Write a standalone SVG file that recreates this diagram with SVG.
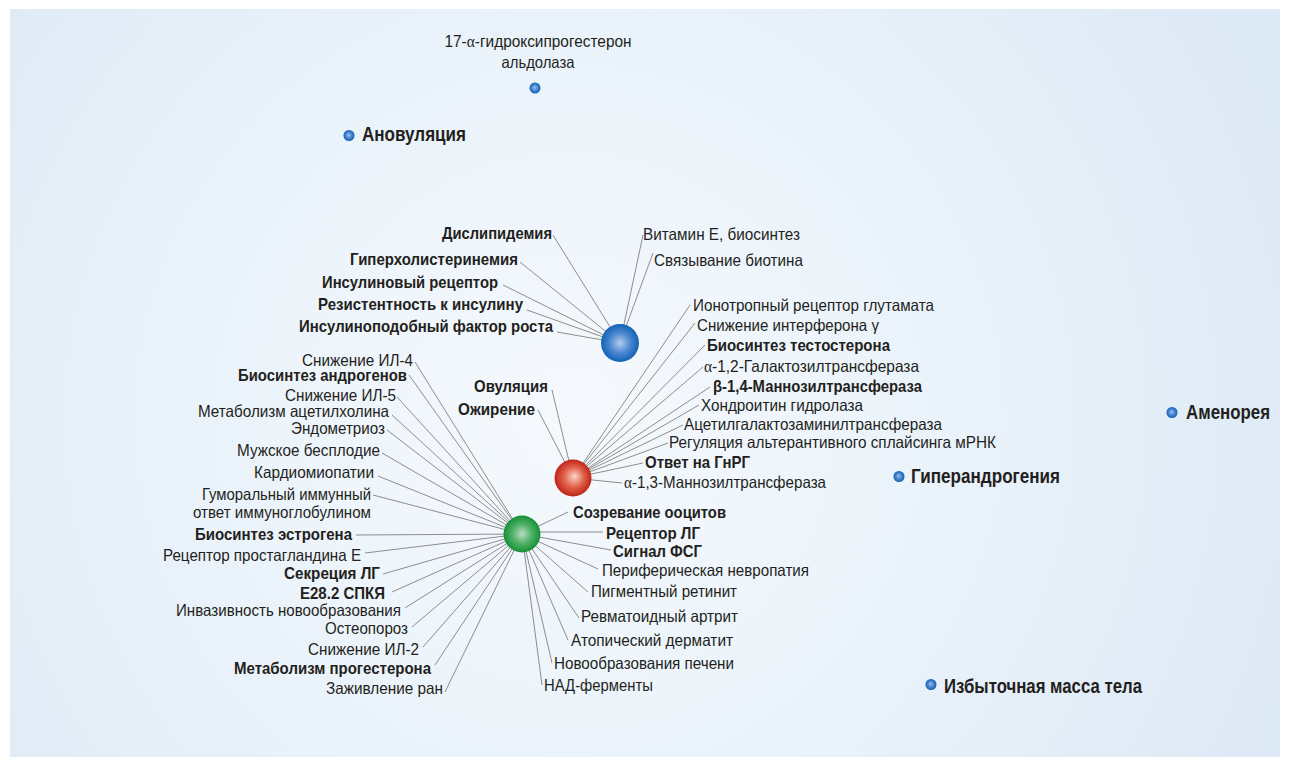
<svg xmlns="http://www.w3.org/2000/svg" width="1289" height="769" viewBox="0 0 1289 769">
<defs>
<radialGradient id="bg" cx="570" cy="420" r="760" gradientUnits="userSpaceOnUse">
<stop offset="0" stop-color="#f5f9fd"/>
<stop offset="0.55" stop-color="#e9f2fa"/>
<stop offset="1" stop-color="#dde9f5"/>
</radialGradient>
<radialGradient id="gBlue" cx="0.5" cy="0.5" r="0.5" fx="0.5" fy="0.5">
<stop offset="0" stop-color="#b4cced"/>
<stop offset="0.55" stop-color="#4a86d0"/>
<stop offset="1" stop-color="#1263b5"/>
</radialGradient>
<radialGradient id="gRed" cx="0.5" cy="0.5" r="0.5" fx="0.55" fy="0.45">
<stop offset="0" stop-color="#f9d6c6"/>
<stop offset="0.55" stop-color="#e0604a"/>
<stop offset="1" stop-color="#bf2418"/>
</radialGradient>
<radialGradient id="gGreen" cx="0.5" cy="0.5" r="0.5" fx="0.5" fy="0.5">
<stop offset="0" stop-color="#bcdcc4"/>
<stop offset="0.55" stop-color="#4caf64"/>
<stop offset="1" stop-color="#169036"/>
</radialGradient>
<radialGradient id="gDot" cx="0.5" cy="0.5" r="0.5" fx="0.45" fy="0.45">
<stop offset="0" stop-color="#9cc0ec"/>
<stop offset="0.6" stop-color="#3f7fcf"/>
<stop offset="1" stop-color="#1460b2"/>
</radialGradient>
<style>
text{font-family:"Liberation Sans Narrow","Liberation Sans",Arial,sans-serif;font-size:16.5px;fill:#231f20}
.b{font-weight:bold}
.n{font-weight:bold;font-size:20px}
.e{text-anchor:end}
.m{text-anchor:middle}
.g{font-family:"Liberation Serif","Times New Roman",serif}
#connectors line{stroke:#8d8d8d;stroke-width:1}
</style>
</defs>
<rect x="0" y="0" width="1289" height="769" fill="#ffffff"/>
<rect x="10" y="9" width="1270" height="748" fill="url(#bg)"/>

<g id="connectors">
<line x1="553" y1="235" x2="620" y2="343"/>
<line x1="520" y1="262" x2="620" y2="343"/>
<line x1="503" y1="285" x2="620" y2="343"/>
<line x1="527" y1="310" x2="620" y2="343"/>
<line x1="557" y1="332" x2="620" y2="343"/>
<line x1="643" y1="235" x2="620" y2="343"/>
<line x1="653" y1="253" x2="620" y2="343"/>

<line x1="690" y1="305" x2="573" y2="478"/>
<line x1="695" y1="323" x2="573" y2="478"/>
<line x1="705" y1="345" x2="573" y2="478"/>
<line x1="703" y1="367" x2="573" y2="478"/>
<line x1="710" y1="387" x2="573" y2="478"/>
<line x1="699" y1="405" x2="573" y2="478"/>
<line x1="683" y1="425" x2="573" y2="478"/>
<line x1="668" y1="443" x2="573" y2="478"/>
<line x1="643" y1="463" x2="573" y2="478"/>
<line x1="622" y1="483" x2="573" y2="478"/>
<line x1="552" y1="390" x2="573" y2="478"/>
<line x1="538" y1="410" x2="573" y2="478"/>

<line x1="415" y1="362" x2="522" y2="534"/>
<line x1="409" y1="375" x2="522" y2="534"/>
<line x1="397" y1="397" x2="522" y2="534"/>
<line x1="392" y1="415" x2="522" y2="534"/>
<line x1="387" y1="430" x2="522" y2="534"/>
<line x1="382" y1="453" x2="522" y2="534"/>
<line x1="378" y1="476" x2="522" y2="534"/>
<line x1="373" y1="495" x2="522" y2="534"/>
<line x1="356" y1="535" x2="522" y2="534"/>
<line x1="365" y1="553" x2="522" y2="534"/>
<line x1="383" y1="574" x2="522" y2="534"/>
<line x1="392" y1="592" x2="522" y2="534"/>
<line x1="405" y1="608" x2="522" y2="534"/>
<line x1="412" y1="627" x2="522" y2="534"/>
<line x1="423" y1="647" x2="522" y2="534"/>
<line x1="435" y1="665" x2="522" y2="534"/>
<line x1="445" y1="692" x2="522" y2="534"/>
<line x1="568" y1="512" x2="522" y2="534"/>
<line x1="603" y1="532" x2="522" y2="532"/>
<line x1="611" y1="550" x2="522" y2="534"/>
<line x1="598" y1="569" x2="522" y2="534"/>
<line x1="588" y1="592" x2="522" y2="534"/>
<line x1="579" y1="618" x2="522" y2="534"/>
<line x1="568" y1="640" x2="522" y2="534"/>
<line x1="552" y1="663" x2="522" y2="534"/>
<line x1="542" y1="685" x2="522" y2="534"/>
</g>

<g id="hub-blue"><circle cx="620" cy="343" r="19" fill="url(#gBlue)"/></g>
<g id="hub-red"><circle cx="573" cy="478" r="18.5" fill="url(#gRed)"/></g>
<g id="hub-green"><circle cx="522" cy="534" r="18.5" fill="url(#gGreen)"/></g>

<g id="t-dyslipidemia"><text class="b e" x="552" y="239" textLength="110" lengthAdjust="spacingAndGlyphs">Дислипидемия</text></g>
<g id="t-hyperchol"><text class="b e" x="518" y="265" textLength="168" lengthAdjust="spacingAndGlyphs">Гиперхолистеринемия</text></g>
<g id="t-insrec"><text class="b e" x="498" y="288" textLength="176" lengthAdjust="spacingAndGlyphs">Инсулиновый рецептор</text></g>
<g id="t-insres"><text class="b e" x="523" y="310" textLength="205" lengthAdjust="spacingAndGlyphs">Резистентность к инсулину</text></g>
<g id="t-igf"><text class="b e" x="553" y="332" textLength="254" lengthAdjust="spacingAndGlyphs">Инсулиноподобный фактор роста</text></g>
<g id="t-vitE"><text x="643" y="240" textLength="157" lengthAdjust="spacingAndGlyphs">Витамин Е, биосинтез</text></g>
<g id="t-biotin"><text x="654" y="265.5" textLength="149" lengthAdjust="spacingAndGlyphs">Связывание биотина</text></g>

<g id="t-glut"><text x="693" y="311" textLength="241" lengthAdjust="spacingAndGlyphs">Ионотропный рецептор глутамата</text></g>
<g id="t-ifn"><text x="697" y="331" textLength="182" lengthAdjust="spacingAndGlyphs">Снижение интерферона γ</text></g>
<g id="t-testo"><text class="b" x="707" y="351" textLength="183" lengthAdjust="spacingAndGlyphs">Биосинтез тестостерона</text></g>
<g id="t-gal"><text x="704" y="371.5" textLength="215" lengthAdjust="spacingAndGlyphs"><tspan class="g">α</tspan>-1,2-Галактозилтрансфераза</text></g>
<g id="t-man14"><text class="b" x="713" y="391.5" textLength="209" lengthAdjust="spacingAndGlyphs">β-1,4-Маннозилтрансфераза</text></g>
<g id="t-chondro"><text x="701" y="410.5" textLength="162" lengthAdjust="spacingAndGlyphs">Хондроитин гидролаза</text></g>
<g id="t-acetyl"><text x="684" y="430" textLength="258" lengthAdjust="spacingAndGlyphs">Ацетилгалактозаминилтрансфераза</text></g>
<g id="t-splice"><text x="669" y="447.5" textLength="327" lengthAdjust="spacingAndGlyphs">Регуляция альтерантивного сплайсинга мРНК</text></g>
<g id="t-gnrh"><text class="b" x="645" y="468" textLength="105" lengthAdjust="spacingAndGlyphs">Ответ на ГнРГ</text></g>
<g id="t-man13"><text x="624" y="488" textLength="202" lengthAdjust="spacingAndGlyphs"><tspan class="g">α</tspan>-1,3-Маннозилтрансфераза</text></g>
<g id="t-ovul"><text class="b e" x="548" y="392" textLength="74" lengthAdjust="spacingAndGlyphs">Овуляция</text></g>
<g id="t-obes"><text class="b e" x="535" y="415" textLength="77" lengthAdjust="spacingAndGlyphs">Ожирение</text></g>

<g id="t-il4"><text class="e" x="413" y="365.5" textLength="111" lengthAdjust="spacingAndGlyphs">Снижение ИЛ-4</text></g>
<g id="t-andro"><text class="b e" x="407" y="381" textLength="169" lengthAdjust="spacingAndGlyphs">Биосинтез андрогенов</text></g>
<g id="t-il5"><text class="e" x="396" y="400.5" textLength="111" lengthAdjust="spacingAndGlyphs">Снижение ИЛ-5</text></g>
<g id="t-ach"><text class="e" x="389" y="416.5" textLength="191" lengthAdjust="spacingAndGlyphs">Метаболизм ацетилхолина</text></g>
<g id="t-endo"><text class="e" x="385" y="434" textLength="94" lengthAdjust="spacingAndGlyphs">Эндометриоз</text></g>
<g id="t-male"><text class="e" x="380" y="455.5" textLength="143" lengthAdjust="spacingAndGlyphs">Мужское бесплодие</text></g>
<g id="t-cardio"><text class="e" x="374" y="478" textLength="120" lengthAdjust="spacingAndGlyphs">Кардиомиопатии</text></g>
<g id="t-humoral"><text class="e" x="371" y="500" textLength="169" lengthAdjust="spacingAndGlyphs">Гуморальный иммунный</text><text class="e" x="371" y="517.5" textLength="178" lengthAdjust="spacingAndGlyphs">ответ иммуноглобулином</text></g>
<g id="t-estro"><text class="b e" x="352" y="539.5" textLength="157" lengthAdjust="spacingAndGlyphs">Биосинтез эстрогена</text></g>
<g id="t-pge"><text class="e" x="361" y="561" textLength="198" lengthAdjust="spacingAndGlyphs">Рецептор простагландина Е</text></g>
<g id="t-lhsec"><text class="b e" x="380" y="579" textLength="96" lengthAdjust="spacingAndGlyphs">Секреция ЛГ</text></g>
<g id="t-pcos"><text class="b e" x="385" y="599" textLength="85" lengthAdjust="spacingAndGlyphs">E28.2 СПКЯ</text></g>
<g id="t-invas"><text class="e" x="401" y="615.5" textLength="225" lengthAdjust="spacingAndGlyphs">Инвазивность новообразования</text></g>
<g id="t-osteo"><text class="e" x="408" y="634" textLength="83" lengthAdjust="spacingAndGlyphs">Остеопороз</text></g>
<g id="t-il2"><text class="e" x="419" y="655" textLength="111" lengthAdjust="spacingAndGlyphs">Снижение ИЛ-2</text></g>
<g id="t-progest"><text class="b e" x="431" y="674" textLength="197" lengthAdjust="spacingAndGlyphs">Метаболизм прогестерона</text></g>
<g id="t-wound"><text class="e" x="443" y="694" textLength="117" lengthAdjust="spacingAndGlyphs">Заживление ран</text></g>

<g id="t-oocyte"><text class="b" x="573" y="518" textLength="153" lengthAdjust="spacingAndGlyphs">Созревание ооцитов</text></g>
<g id="t-lhrec"><text class="b" x="606" y="539" textLength="94" lengthAdjust="spacingAndGlyphs">Рецептор ЛГ</text></g>
<g id="t-fsh"><text class="b" x="613" y="556.5" textLength="89" lengthAdjust="spacingAndGlyphs">Сигнал ФСГ</text></g>
<g id="t-neuro"><text x="602" y="576" textLength="207" lengthAdjust="spacingAndGlyphs">Периферическая невропатия</text></g>
<g id="t-retin"><text x="591" y="597" textLength="146" lengthAdjust="spacingAndGlyphs">Пигментный ретинит</text></g>
<g id="t-rheum"><text x="581" y="621.5" textLength="157" lengthAdjust="spacingAndGlyphs">Ревматоидный артрит</text></g>
<g id="t-atop"><text x="571" y="645.5" textLength="162" lengthAdjust="spacingAndGlyphs">Атопический дерматит</text></g>
<g id="t-liver"><text x="554" y="669" textLength="180" lengthAdjust="spacingAndGlyphs">Новообразования печени</text></g>
<g id="t-nad"><text x="544" y="690.5" textLength="109" lengthAdjust="spacingAndGlyphs">НАД-ферменты</text></g>

<g id="n-aldolase">
<text class="m" x="538" y="46.5" textLength="187" lengthAdjust="spacingAndGlyphs">17-<tspan class="g">α</tspan>-гидроксипрогестерон</text>
<text class="m" x="538" y="67.5" textLength="73" lengthAdjust="spacingAndGlyphs">альдолаза</text>
<circle cx="535" cy="88" r="5.5" fill="url(#gDot)"/>
</g>
<g id="n-anovulation">
<circle cx="349" cy="135.5" r="5.5" fill="url(#gDot)"/>
<text class="n" x="362" y="140.5" textLength="104" lengthAdjust="spacingAndGlyphs">Ановуляция</text>
</g>
<g id="n-amenorrhea">
<circle cx="1172" cy="412.5" r="5.5" fill="url(#gDot)"/>
<text class="n" x="1186" y="419" textLength="84" lengthAdjust="spacingAndGlyphs">Аменорея</text>
</g>
<g id="n-hyperandro">
<circle cx="899" cy="476.5" r="5.5" fill="url(#gDot)"/>
<text class="n" x="911" y="483" textLength="149" lengthAdjust="spacingAndGlyphs">Гиперандрогения</text>
</g>
<g id="n-overweight">
<circle cx="931" cy="684.5" r="5.5" fill="url(#gDot)"/>
<text class="n" x="944" y="693" textLength="198" lengthAdjust="spacingAndGlyphs">Избыточная масса тела</text>
</g>
</svg>
